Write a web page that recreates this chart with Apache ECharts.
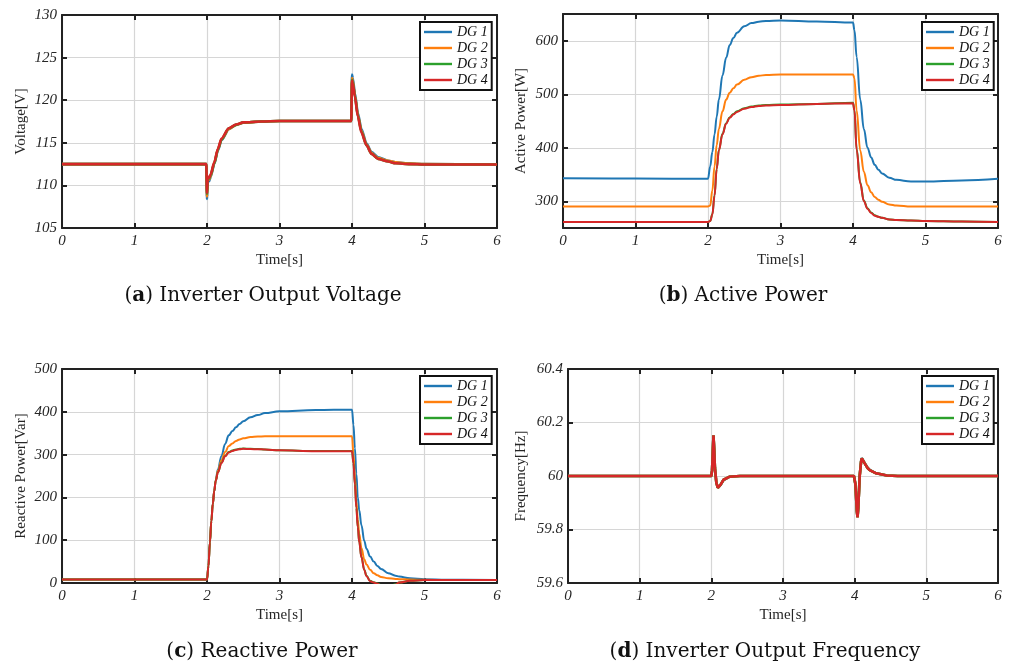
<!DOCTYPE html>
<html>
<head>
<meta charset="utf-8">
<script src="https://cdn.jsdelivr.net/npm/echarts@6/dist/echarts.min.js"></script>
<style>
html, body { margin: 0; padding: 0; background: #fff; }
#chart { width: 1009px; height: 670px; }
</style>
</head>
<body>
<div id="chart"></div>
<script>
const names = ['DG 1', 'DG 2', 'DG 3', 'DG 4'];
const colors = ['#1f77b4', '#ff7f0e', '#2ca02c', '#d62728'];

// (a) inverter output voltage [V]
const tVolt = [0, 1, 1.99, 2.0, 2.01, 2.02, 2.03, 2.05, 2.1, 2.15, 2.2, 2.3, 2.4, 2.5, 2.75, 3.0,
  3.5, 3.99, 4.0, 4.01, 4.04, 4.08, 4.13, 4.2, 4.27, 4.36, 4.5, 4.6, 4.8, 5.0, 6.0];
const volt1 = [112.5, 112.5, 112.5, 108.4, 110.4, 110.6, 110.5, 111.0, 112.5, 114.1, 115.3, 116.6, 117.1, 117.35, 117.5, 117.55,
  117.55, 117.55, 123.0, 122.6, 120.8, 118.5, 116.6, 114.9, 113.9, 113.3, 112.9, 112.7, 112.55, 112.5, 112.45];
const volt2 = [112.5, 112.5, 112.5, 108.7, 110.6, 110.8, 110.7, 111.1, 112.6, 114.2, 115.4, 116.6, 117.1, 117.35, 117.5, 117.55,
  117.55, 117.55, 122.6, 122.3, 120.6, 118.3, 116.4, 114.8, 113.8, 113.2, 112.9, 112.7, 112.55, 112.5, 112.45];
const volt3 = [112.5, 112.5, 112.5, 109.0, 110.7, 110.9, 110.8, 111.2, 112.6, 114.2, 115.4, 116.7, 117.1, 117.4, 117.5, 117.55,
  117.55, 117.55, 122.4, 122.1, 120.5, 118.2, 116.3, 114.7, 113.7, 113.1, 112.8, 112.6, 112.5, 112.45, 112.45];
const volt4 = [112.5, 112.5, 112.5, 109.1, 110.8, 111.0, 110.9, 111.3, 112.7, 114.3, 115.5, 116.7, 117.15, 117.4, 117.5, 117.55,
  117.55, 117.55, 122.3, 122.0, 120.4, 118.1, 116.2, 114.7, 113.7, 113.1, 112.8, 112.6, 112.5, 112.45, 112.45];

// (b) active power [W]
const tP = [0, 1, 2.0, 2.03, 2.06, 2.09, 2.12, 2.15, 2.2, 2.25, 2.3, 2.35, 2.4, 2.5, 2.6, 2.7, 2.8, 3.0, 3.5, 4.0,
  4.02, 4.05, 4.1, 4.15, 4.2, 4.25, 4.3, 4.35, 4.4, 4.5, 4.6, 4.8, 5.0, 5.5, 6.0];
const p1 = [343, 342.5, 342, 365, 392, 425, 458, 490, 535, 568, 592, 605, 615, 627, 633, 635.5, 637, 638, 636, 634,
  620, 570, 490, 435, 400, 382, 368, 359, 352, 344, 340, 337, 337, 339, 342];
const p2 = [290, 290, 290, 292, 320, 365, 405, 435, 468, 490, 503, 511, 518, 527, 532, 534.5, 536, 537, 537, 537,
  530, 470, 395, 355, 330, 317, 308, 303, 299, 294, 292, 290, 290, 290, 290];
const p3 = [261, 261, 261, 263, 276, 311, 361, 396, 426, 446, 457, 463, 468, 474, 477, 479, 480, 481, 482, 484,
  471, 398, 335, 301, 287, 279, 274, 271, 269, 266, 265, 264, 263, 262, 261];
const p4 = [261, 261, 261, 263, 275, 310, 360, 395, 425, 445, 456, 462, 467, 473, 476, 478, 479, 480, 482, 483,
  470, 396, 333, 300, 286, 278, 273, 271, 269, 266, 265, 264, 263, 262, 261];
const pTicks = [300, 400, 500, 600];

// (c) reactive power [Var]
const tQ = [0, 1, 2.0, 2.02, 2.04, 2.06, 2.08, 2.1, 2.12, 2.15, 2.2, 2.25, 2.3, 2.35, 2.4, 2.45, 2.5, 2.6, 2.7, 2.8, 3.0, 3.5, 4.0,
  4.02, 4.04, 4.06, 4.08, 4.1, 4.13, 4.17, 4.2, 4.25, 4.3, 4.35, 4.4, 4.5, 4.6, 4.65, 4.8, 5.0, 5.3, 6.0];
const q1 = [8, 8, 8, 40, 95, 145, 185, 215, 240, 265, 297, 325, 345, 355, 364, 371.5, 378, 387, 392.5, 397, 401, 404, 405,
  370, 315, 255, 200, 170, 135, 98, 80, 62, 50, 40, 33, 23, 17, 15, 11, 9, 7.5, 7];
const q2 = [8, 8, 8, 40, 95, 145, 185, 215, 240, 262, 287, 306, 320, 326, 332, 335.5, 338, 341, 342, 343, 343, 343, 343,
  300, 250, 190, 148, 115, 82, 55, 43, 31, 23, 18, 14, 11, 9.5, 9, 8, 7.5, 7, 7];
const q3 = [8, 8, 8, 40, 95, 145, 185, 215, 238, 258, 281, 297, 306, 309.5, 312, 313.5, 314, 313.5, 313, 312, 310, 308.5, 308.5,
  281, 232, 177, 131, 96, 61, 31, 17, 5, 2, -1, -5, -9, -3, 1, 5, 7, 7, 7];
const q4 = [8, 8, 8, 40, 95, 145, 185, 215, 238, 258, 280, 296, 305, 308.5, 311, 312.5, 313.5, 313, 312.5, 312, 310, 308, 308,
  280, 230, 175, 130, 95, 60, 30, 16, 4, 1, -2, -6, -10, -4, 1, 5, 7, 7, 7];

// (d) inverter output frequency [Hz]
const tF = [0, 1, 2.0, 2.01, 2.02, 2.03, 2.04, 2.05, 2.07, 2.09, 2.1, 2.13, 2.17, 2.25, 2.4, 3.0, 3.99,
  4.01, 4.03, 4.04, 4.05, 4.07, 4.09, 4.1, 4.12, 4.14, 4.18, 4.21, 4.3, 4.45, 4.6, 5.0, 6.0];
const f1 = [60, 60, 60, 60.02, 60.09, 60.15, 60.1, 60.03, 59.975, 59.956, 59.953, 59.967, 59.985, 59.997, 60, 60, 60,
  59.97, 59.87, 59.848, 59.88, 60, 60.056, 60.067, 60.06, 60.048, 60.031, 60.023, 60.01, 60.002, 60, 60, 60];
const f2 = [60, 60, 60, 60.02, 60.09, 60.151, 60.1, 60.03, 59.975, 59.956, 59.954, 59.968, 59.986, 59.997, 60, 60, 60,
  59.97, 59.87, 59.846, 59.88, 60, 60.055, 60.066, 60.06, 60.047, 60.03, 60.022, 60.01, 60.002, 60, 60, 60];
const f3 = [60, 60, 60, 60.02, 60.09, 60.152, 60.1, 60.03, 59.975, 59.956, 59.954, 59.968, 59.986, 59.997, 60, 60, 60,
  59.97, 59.87, 59.845, 59.88, 60, 60.055, 60.066, 60.06, 60.047, 60.03, 60.022, 60.01, 60.002, 60, 60, 60];
const f4 = [60, 60, 60, 60.02, 60.09, 60.152, 60.1, 60.03, 59.975, 59.956, 59.954, 59.968, 59.986, 59.997, 60, 60, 60,
  59.97, 59.87, 59.845, 59.88, 60, 60.055, 60.066, 60.06, 60.047, 60.03, 60.022, 60.01, 60.002, 60, 60, 60];

const panels = [
  { t: tVolt, ys: [volt1, volt2, volt3, volt4], yName: 'Voltage[V]', min: 105, max: 130, interval: 5,
    caption: '({b|a}) Inverter Output Voltage', capX: 263, capY: 286, lw: 2.6, smooth: 0.25 },
  { t: tP, ys: [p1, p2, p3, p4], yName: 'Active Power[W]', min: 250, max: 650, custom: pTicks,
    caption: '({b|b}) Active Power', capX: 743, capY: 286, lw: 2, smooth: 0.4 },
  { t: tQ, ys: [q1, q2, q3, q4], yName: 'Reactive Power[Var]', min: 0, max: 500, interval: 100,
    caption: '({b|c}) Reactive Power', capX: 262, capY: 642, lw: 2, smooth: 0.4 },
  { t: tF, ys: [f1, f2, f3, f4], yName: 'Frequency[Hz]', min: 59.6, max: 60.4, interval: 0.2,
    caption: '({b|d}) Inverter Output Frequency', capX: 765, capY: 642, lw: 2.6, smooth: 0 }
];

const grids = [
  { left: 62, top: 15, width: 435, height: 213, yGap: 33, legend: [420, 22] },
  { left: 563, top: 14, width: 435, height: 214, yGap: 34, legend: [922, 22] },
  { left: 62, top: 369, width: 435, height: 214, yGap: 33, legend: [420, 376] },
  { left: 568, top: 369, width: 430, height: 214, yGap: 39, legend: [922, 376] }
];

const frame = { color: '#222', width: 2 };
const tickFont = { fontFamily: 'Liberation Serif', fontStyle: 'italic', fontSize: 15, color: '#262626' };
const nameFont = { fontFamily: 'Liberation Serif', fontSize: 15, color: '#262626' };
const gridLine = { show: true, lineStyle: { color: '#d6d6d6', width: 1.2 } };

const xAxes = [], yAxes = [], series = [];
panels.forEach((p, gi) => {
  xAxes.push({
    type: 'value', gridIndex: gi, min: 0, max: 6, interval: 1, position: 'bottom',
    name: 'Time[s]', nameLocation: 'middle', nameGap: 25, nameTextStyle: nameFont,
    axisLine: { onZero: false, lineStyle: frame },
    axisTick: { inside: true, length: 5, lineStyle: frame },
    axisLabel: Object.assign({ margin: 6 }, tickFont),
    splitLine: gridLine
  });
  xAxes.push({
    type: 'value', gridIndex: gi, min: 0, max: 6, interval: 1, position: 'top',
    axisLine: { onZero: false, lineStyle: frame },
    axisTick: { inside: true, length: 5, lineStyle: frame },
    axisLabel: { show: false }, splitLine: { show: false }
  });
  const yBase = { type: 'value', gridIndex: gi, min: p.min, max: p.max };
  if (p.custom) {
    yBase.axisTick = { inside: true, length: 5, lineStyle: frame, customValues: p.custom };
  } else {
    yBase.interval = p.interval;
    yBase.axisTick = { inside: true, length: 5, lineStyle: frame };
  }
  const labelCfg = Object.assign({ margin: 5, formatter: v => String(+v.toFixed(1)) }, tickFont);
  if (p.custom) labelCfg.customValues = p.custom;
  yAxes.push(Object.assign({}, yBase, {
    position: 'left', name: p.yName, nameLocation: 'middle', nameGap: grids[gi].yGap,
    nameTextStyle: nameFont,
    axisLine: { onZero: false, lineStyle: frame },
    axisLabel: labelCfg,
    splitLine: gridLine
  }));
  yAxes.push(Object.assign({}, yBase, {
    position: 'right',
    axisLine: { onZero: false, lineStyle: frame },
    axisLabel: { show: false }, splitLine: { show: false }
  }));
  p.ys.forEach((vals, si) => {
    series.push({
      type: 'line', name: names[si], xAxisIndex: gi * 2, yAxisIndex: gi * 2,
      data: p.t.map((x, i) => [x, vals[i]]),
      showSymbol: false, symbol: 'none', smooth: p.smooth, smoothMonotone: 'x', clip: true,
      lineStyle: { width: p.lw, color: colors[si] }, itemStyle: { color: colors[si] },
      z: 2 + si
    });
  });
});

const chart = echarts.init(document.getElementById('chart'), null, { renderer: 'canvas' });
chart.setOption({
  animation: false,
  backgroundColor: '#fff',
  grid: grids.map(g => ({ left: g.left, top: g.top, width: g.width, height: g.height, containLabel: false })),
  xAxis: xAxes,
  yAxis: yAxes,
  legend: grids.map(g => ({
    data: names, orient: 'vertical', left: g.legend[0], top: g.legend[1],
    backgroundColor: '#fff', borderColor: '#111', borderWidth: 2, borderRadius: 0,
    padding: [3, 4, 3, 4], itemWidth: 28, itemHeight: 14, itemGap: 2, itemTextGap: 3,
    icon: 'path://M0,0H28V2.4H0Z',
    textStyle: { fontFamily: 'Liberation Serif', fontStyle: 'italic', fontSize: 14, color: '#111' },
    selectedMode: false
  })),
  title: panels.map(p => ({
    text: p.caption, left: p.capX, top: p.capY, textAlign: 'center', padding: 0,
    textStyle: {
      fontFamily: 'DejaVu Serif', fontSize: 20, fontWeight: 'normal', color: '#111',
      rich: { b: { fontFamily: 'DejaVu Serif', fontSize: 20, fontWeight: 'bold', color: '#111' } }
    }
  })),
  series: series
});
</script>
</body>
</html>
